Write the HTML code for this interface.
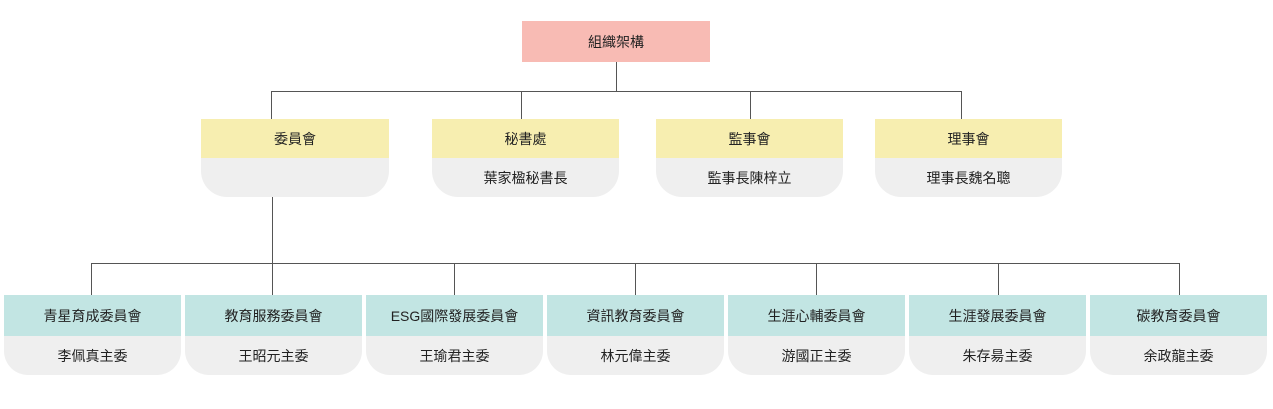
<!DOCTYPE html>
<html><head><meta charset="utf-8"><style>
body{margin:0;width:1273px;height:409px;background:#fff;position:relative;overflow:hidden;font-family:"Liberation Sans","Noto Sans CJK TC",sans-serif;color:#222}
.l{position:absolute;background:#555}
.b{position:absolute;display:flex;flex-direction:column;text-align:center;font-size:14px}
.h{display:flex;align-items:center;justify-content:center}
.g{background:#efefef;display:flex;align-items:center;justify-content:center}
</style></head><body>
<div class="b" style="left:522px;top:21px;width:188px;height:41px;background:#f8bbb4"><div class="h" style="height:41px">組織架構</div></div>
<div class="l" style="left:616px;top:62px;width:1px;height:29px"></div>
<div class="l" style="left:271px;top:91px;width:691px;height:1px"></div>
<div class="l" style="left:271px;top:91px;width:1px;height:28px"></div>
<div class="l" style="left:521px;top:91px;width:1px;height:28px"></div>
<div class="l" style="left:750px;top:91px;width:1px;height:28px"></div>
<div class="l" style="left:961px;top:91px;width:1px;height:28px"></div>
<div class="b" style="left:201px;top:119px;width:188px"><div class="h" style="height:39px;background:#f7eeb0">委員會</div><div class="g" style="height:39px;border-radius:0 0 26px 26px"></div></div>
<div class="b" style="left:432px;top:119px;width:187px"><div class="h" style="height:39px;background:#f7eeb0">秘書處</div><div class="g" style="height:39px;border-radius:0 0 26px 26px">葉家楹秘書長</div></div>
<div class="b" style="left:656px;top:119px;width:187px"><div class="h" style="height:39px;background:#f7eeb0">監事會</div><div class="g" style="height:39px;border-radius:0 0 26px 26px">監事長陳梓立</div></div>
<div class="b" style="left:875px;top:119px;width:187px"><div class="h" style="height:39px;background:#f7eeb0">理事會</div><div class="g" style="height:39px;border-radius:0 0 26px 26px">理事長魏名聰</div></div>
<div class="l" style="left:272px;top:197px;width:1px;height:98px"></div>
<div class="l" style="left:91px;top:263px;width:1089px;height:1px"></div>
<div class="l" style="left:91px;top:263px;width:1px;height:32px"></div>
<div class="l" style="left:454px;top:263px;width:1px;height:32px"></div>
<div class="l" style="left:635px;top:263px;width:1px;height:32px"></div>
<div class="l" style="left:816px;top:263px;width:1px;height:32px"></div>
<div class="l" style="left:998px;top:263px;width:1px;height:32px"></div>
<div class="l" style="left:1179px;top:263px;width:1px;height:32px"></div>
<div class="b" style="left:4px;top:295px;width:177px"><div class="h" style="height:41px;background:#c2e5e3">青星育成委員會</div><div class="g" style="height:39px;border-radius:0 0 24px 24px">李佩真主委</div></div>
<div class="b" style="left:185px;top:295px;width:177px"><div class="h" style="height:41px;background:#c2e5e3">教育服務委員會</div><div class="g" style="height:39px;border-radius:0 0 24px 24px">王昭元主委</div></div>
<div class="b" style="left:366px;top:295px;width:177px"><div class="h" style="height:41px;background:#c2e5e3">ESG國際發展委員會</div><div class="g" style="height:39px;border-radius:0 0 24px 24px">王瑜君主委</div></div>
<div class="b" style="left:547px;top:295px;width:177px"><div class="h" style="height:41px;background:#c2e5e3">資訊教育委員會</div><div class="g" style="height:39px;border-radius:0 0 24px 24px">林元偉主委</div></div>
<div class="b" style="left:728px;top:295px;width:177px"><div class="h" style="height:41px;background:#c2e5e3">生涯心輔委員會</div><div class="g" style="height:39px;border-radius:0 0 24px 24px">游國正主委</div></div>
<div class="b" style="left:909px;top:295px;width:177px"><div class="h" style="height:41px;background:#c2e5e3">生涯發展委員會</div><div class="g" style="height:39px;border-radius:0 0 24px 24px">朱存昜主委</div></div>
<div class="b" style="left:1090px;top:295px;width:177px"><div class="h" style="height:41px;background:#c2e5e3">碳教育委員會</div><div class="g" style="height:39px;border-radius:0 0 24px 24px">余政龍主委</div></div>
</body></html>
